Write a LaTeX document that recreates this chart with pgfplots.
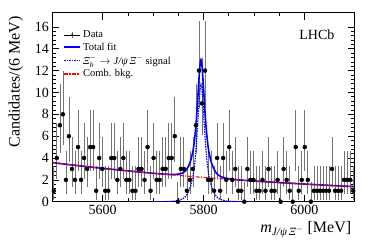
\documentclass[border=0pt]{standalone}
\usepackage{fontspec}
\setmainfont{Liberation Serif}
\usepackage{amsmath}
\usepackage{pgfplots}
\usepackage{pgfplotstable}
\pgfplotsset{compat=1.18}

\pgfplotstableread{
x y em ep
5503 1 0.83 2.30
5509 4 1.91 3.16
5515 7 2.58 3.77
5521 8 2.77 3.95
5527 2 1.29 2.64
5533 6 2.38 3.58
5539 3 1.63 2.92
5545 2 1.29 2.64
5551 5 2.16 3.38
5557 2 1.29 2.64
5563 4 1.91 3.16
5569 3 1.63 2.92
5575 5 2.16 3.38
5581 5 2.16 3.38
5587 1 0.83 2.30
5593 4 1.91 3.16
5599 3 1.63 2.92
5605 1 0.83 2.30
5611 1 0.83 2.30
5617 4 1.91 3.16
5623 4 1.91 3.16
5629 2 1.29 2.64
5635 3 1.63 2.92
5641 4 1.91 3.16
5647 2 1.29 2.64
5653 2 1.29 2.64
5659 1 0.83 2.30
5665 1 0.83 2.30
5671 3 1.63 2.92
5677 3 1.63 2.92
5683 2 1.29 2.64
5689 5 2.16 3.38
5695 1 0.83 2.30
5701 4 1.91 3.16
5707 2 1.29 2.64
5713 2 1.29 2.64
5719 3 1.63 2.92
5725 3 1.63 2.92
5731 4 1.91 3.16
5737 4 1.91 3.16
5743 6 2.38 3.58
5749 0 0.00 1.84
5755 3 1.63 2.92
5761 3 1.63 2.92
5767 1 0.83 2.30
5773 2 1.29 2.64
5779 3 1.63 2.92
5785 7 2.58 3.77
5791 12 3.42 4.54
5797 9 2.94 4.11
5803 12 3.42 4.54
5809 2 1.29 2.64
5815 2 1.29 2.64
5821 1 0.83 2.30
5827 4 1.91 3.16
5833 1 0.83 2.30
5839 4 1.91 3.16
5845 2 1.29 2.64
5851 5 2.16 3.38
5857 2 1.29 2.64
5863 3 1.63 2.92
5869 1 0.83 2.30
5875 1 0.83 2.30
5881 0 0.00 1.84
5887 3 1.63 2.92
5893 2 1.29 2.64
5899 2 1.29 2.64
5905 1 0.83 2.30
5911 1 0.83 2.30
5917 2 1.29 2.64
5923 1 0.83 2.30
5929 3 1.63 2.92
5935 1 0.83 2.30
5941 1 0.83 2.30
5947 2 1.29 2.64
5953 0 0.00 1.84
5959 3 1.63 2.92
5965 2 1.29 2.64
5971 1 0.83 2.30
5977 0 0.00 1.84
5983 5 2.16 3.38
5989 1 0.83 2.30
5995 2 1.29 2.64
6001 5 2.16 3.38
6007 2 1.29 2.64
6013 0 0.00 1.84
6019 1 0.83 2.30
6025 1 0.83 2.30
6031 1 0.83 2.30
6037 1 0.83 2.30
6043 1 0.83 2.30
6049 1 0.83 2.30
6055 3 1.63 2.92
6061 1 0.83 2.30
6067 1 0.83 2.30
6073 1 0.83 2.30
6079 2 1.29 2.64
6085 2 1.29 2.64
6091 2 1.29 2.64
6097 1 0.83 2.30
}\datatab

\begin{document}
\begin{tikzpicture}
\useasboundingbox (-52.3pt,-39.3pt) rectangle (321.7pt,201.7pt);
\begin{axis}[
  scale only axis, width=302.4pt, height=189pt,
  xmin=5500, xmax=6100, ymin=0, ymax=17.3,
  xtick={5600,5800,6000}, minor x tick num=3,
  ytick={0,2,...,16}, minor y tick num=4,
  tick pos=both, tick align=inside,
  major tick length=7pt, minor tick length=3.5pt,
  axis line style={line width=1pt},
  every tick/.style={black, line width=0.7pt},
  /pgf/number format/assume math mode=true,
  /pgf/number format/1000 sep={},
  tick label style={font=\fontsize{14}{16}\selectfont},
  xlabel={\textit{m}$_{\textit{J/ψ\,Ξ}^{-}}$ [MeV]},
  ylabel={Candidates/(6 MeV)},
  xlabel style={font=\fontsize{16}{18}\selectfont, at={(axis description cs:1,-0.085)}, anchor=north east},
  ylabel style={font=\fontsize{16}{18}\selectfont, at={(axis description cs:-0.085,1)}, anchor=south east},
  legend style={at={(axis description cs:0.025,0.925)}, anchor=north west, draw=none, fill=none,
    font=\fontsize{10.5}{12}\selectfont, row sep=-0.5pt},
  legend cell align=left,
]
\addplot[forget plot, only marks, mark=none,
  error bars/.cd, y dir=both, y explicit, error mark=none,
  error bar style={black!55, line width=0.7pt}]
  table[x=x, y=y, y error plus=ep, y error minus=em]{\datatab};
\addplot[only marks, mark=*, mark size=0.65pt, black,
  legend image code/.code={
    \draw[black!55, line width=0.7pt] (0.28cm,-0.1cm) -- (0.28cm,0.1cm);
    \draw[black, line width=0.8pt] (0cm,0cm) -- (0.56cm,0cm);
    \fill[black] (0.28cm,0cm) circle (0.9pt);},
  error bars/.cd, x dir=both, x fixed=3, error mark=none,
  error bar style={black, line width=0.8pt}]
  table[x=x, y=y]{\datatab};
\addlegendentry{Data}

\addplot[blue, line width=1.6pt,
  legend image code/.code={\draw[draw=blue, line width=2.2pt] (0cm,0cm) -- (0.56cm,0cm);}] table{
5500 3.580
5520 3.468
5540 3.359
5560 3.254
5580 3.153
5600 3.054
5620 2.958
5640 2.865
5660 2.776
5680 2.689
5700 2.605
5715 2.543
5735 2.493
5745 2.494
5755 2.567
5760 2.668
5765 2.849
5770 3.231
5775 3.812
5779 4.598
5781 5.190
5783 5.983
5785 6.976
5787 8.269
5789 9.761
5791 11.254
5793 12.447
5794 12.85
5795 12.99
5796 12.85
5797 12.432
5799 11.225
5801 9.718
5803 8.211
5805 6.904
5807 5.897
5809 5.090
5811 4.483
5815 3.669
5820 3.052
5825 2.635
5830 2.418
5835 2.282
5845 2.139
5855 2.066
5875 1.973
5900 1.895
5920 1.836
5940 1.779
5960 1.723
5980 1.669
6000 1.617
6020 1.566
6040 1.517
6060 1.470
6080 1.424
6100 1.379
};
\addlegendentry{Total fit}
\addplot[blue, line width=1.2pt, dash pattern=on 1.5pt off 1pt,
  legend image code/.code={\draw[draw=blue, line width=1.5pt, dash pattern=on 1.5pt off 1pt] (0cm,0cm) -- (0.56cm,0cm);}] table{
5700 0
5715 0
5735 0.03
5745 0.07
5755 0.18
5760 0.30
5765 0.50
5770 0.90
5775 1.50
5779 2.30
5781 2.90
5783 3.70
5785 4.70
5787 6.00
5789 7.50
5791 9.00
5793 10.20
5794 10.60
5795 10.75
5796 10.60
5797 10.20
5799 9.00
5801 7.50
5803 6.00
5805 4.70
5807 3.70
5809 2.90
5811 2.30
5815 1.50
5820 0.90
5825 0.50
5830 0.30
5835 0.18
5845 0.07
5855 0.03
5875 0
5900 0
};
\addlegendentry{$\textit{Ξ}_{\textit{b}}^{-}\rightarrow \textit{J/ψ\,Ξ}^{-}$ signal}
\addplot[red, line width=1.1pt, dash pattern=on 4pt off 1.5pt on 1pt off 1.5pt,
  legend image code/.code={\draw[draw=red, line width=1.9pt, dash pattern=on 3.5pt off 1.5pt on 1.5pt off 1.5pt] (0cm,0cm) -- (0.56cm,0cm);}] table{
5500 3.580
5520 3.468
5540 3.359
5560 3.254
5580 3.153
5600 3.054
5620 2.958
5640 2.865
5660 2.776
5680 2.689
5700 2.605
5720 2.523
5740 2.444
5760 2.368
5780 2.294
5800 2.222
5820 2.152
5840 2.085
5860 2.020
5880 1.957
5900 1.895
5920 1.836
5940 1.779
5960 1.723
5980 1.669
6000 1.617
6020 1.566
6040 1.517
6060 1.470
6080 1.424
6100 1.379
};
\addlegendentry{Comb. bkg.}
\node[font=\fontsize{14}{16}\selectfont] at (axis cs:6025,15.3) {LHCb};
\end{axis}
\end{tikzpicture}
\end{document}
